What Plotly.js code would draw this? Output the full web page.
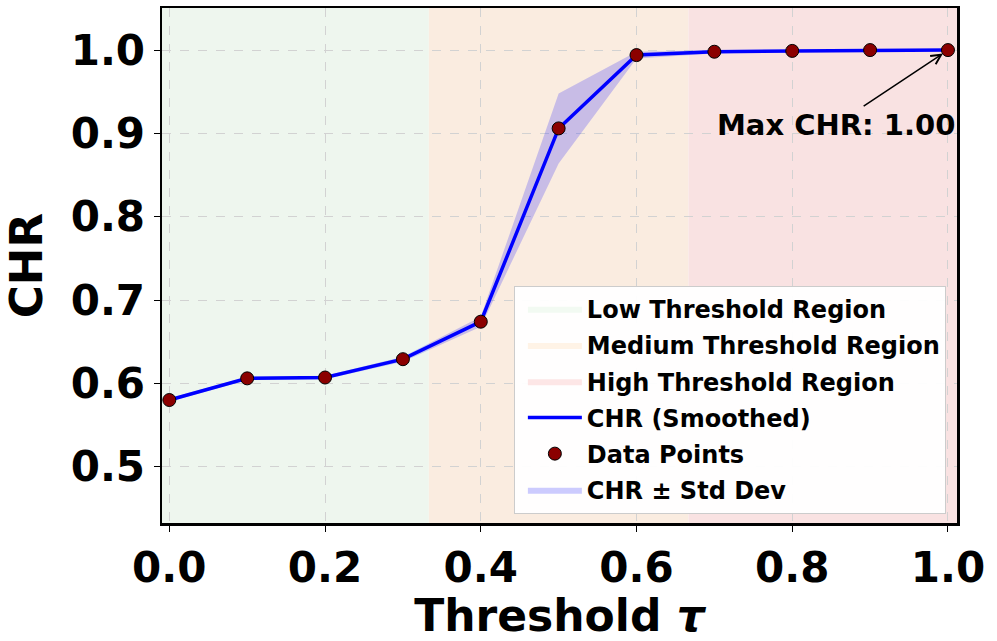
<!DOCTYPE html>
<html>
<head>
<meta charset="utf-8">
<script src="https://cdn.plot.ly/plotly-3.0.1.min.js"></script>
<style>
  html, body { margin: 0; padding: 0; background: white; }
  #chart { width: 997px; height: 641px; }
</style>
</head>
<body>
<div id="chart"></div>
<script>
// threshold values and measured CHR
const thresholds = [0.0, 0.1, 0.2, 0.3, 0.4, 0.5, 0.6, 0.7, 0.8, 0.9, 1.0];
const chrValues = [0.580, 0.606, 0.607, 0.629, 0.674, 0.906, 0.994, 0.998, 0.999, 1.000, 1.000];
const chrStd = [0.002, 0.002, 0.002, 0.003, 0.006, 0.042, 0.004, 0.002, 0.001, 0.001, 0.001];

// region boundaries and labels
const regionEdges = [0, 1 / 3, 2 / 3, 1.0];
const regionNames = ['Low Threshold Region', 'Medium Threshold Region', 'High Threshold Region'];
const regionFill = ['#eef6ee', '#faece0', '#f9e2e2'];
const regionLegendFill = ['#f2faf2', '#fff3e6', '#fde6e6'];

const xRange = [-0.0094, 1.0116];
const yRange = [0.4324, 1.0505];

const FONT = 'DejaVu Sans, Verdana, sans-serif';

const upper = chrValues.map((v, i) => v + chrStd[i]);
const lower = chrValues.map((v, i) => v - chrStd[i]);

// background regions as shapes; the outer ones run to the frame
const shapes = regionNames.map((name, i) => ({
    type: 'rect',
    xref: 'x',
    yref: 'paper',
    x0: i === 0 ? xRange[0] : regionEdges[i],
    x1: i === regionNames.length - 1 ? xRange[1] : regionEdges[i + 1],
    y0: 0,
    y1: 1,
    fillcolor: regionFill[i],
    line: { width: 0 },
    layer: 'below'
}));

// legend-only entries for the regions
const regionTraces = regionNames.map((name, i) => ({
    x: [null],
    y: [null],
    type: 'scatter',
    mode: 'lines',
    fill: 'toself',
    fillcolor: regionLegendFill[i],
    line: { width: 0, color: regionLegendFill[i] },
    name: name,
    legendgroup: 'g' + i,
    legendrank: 1001 + i,
    hoverinfo: 'skip'
}));

const traces = [
    ...regionTraces,
    {
        x: thresholds,
        y: lower,
        type: 'scatter',
        mode: 'lines',
        line: { width: 0, color: 'rgba(0,0,255,0)' },
        showlegend: false,
        hoverinfo: 'skip'
    },
    {
        x: thresholds,
        y: upper,
        type: 'scatter',
        mode: 'lines',
        fill: 'tonexty',
        fillcolor: 'rgba(0,0,255,0.2)',
        line: { width: 0, color: 'rgba(0,0,255,0)' },
        name: 'CHR ± Std Dev',
        legendgroup: 'g5',
        legendrank: 1006
    },
    {
        x: thresholds,
        y: chrValues,
        type: 'scatter',
        mode: 'lines',
        line: { color: '#0000ff', width: 3.5 },
        name: 'CHR (Smoothed)',
        legendgroup: 'g3',
        legendrank: 1004
    },
    {
        x: thresholds,
        y: chrValues,
        type: 'scatter',
        mode: 'markers',
        marker: { size: 13, color: '#8b0000', line: { color: '#000000', width: 1 } },
        name: 'Data Points',
        legendgroup: 'g4',
        legendrank: 1005
    }
];

const bestIdx = chrValues.lastIndexOf(Math.max(...chrValues));

const layout = {
    width: 997,
    height: 641,
    margin: { l: 162, r: 40, t: 8, b: 118 },
    paper_bgcolor: 'white',
    plot_bgcolor: 'white',
    font: { family: FONT, color: '#000', weight: 'bold' },
    xaxis: {
        range: xRange,
        dtick: 0.2,
        tick0: 0,
        tickformat: '.1f',
        tickfont: { size: 42, family: FONT, weight: 'bold' },
        ticks: 'outside',
        ticklen: 6,
        tickwidth: 1,
        tickcolor: '#000',
        showline: true,
        mirror: true,
        linewidth: 2.5,
        linecolor: '#000',
        showgrid: true,
        gridcolor: '#d2d2d2',
        griddash: 'dash',
        gridwidth: 1,
        zeroline: false,
        title: {
            text: 'Threshold <i>τ</i>',
            font: { size: 44, family: FONT, weight: 'bold' },
            standoff: 8
        }
    },
    yaxis: {
        range: yRange,
        dtick: 0.1,
        tick0: 0.5,
        tickformat: '.1f',
        tickfont: { size: 42, family: FONT, weight: 'bold' },
        ticks: 'outside',
        ticklen: 6,
        tickwidth: 1,
        tickcolor: '#000',
        showline: true,
        mirror: true,
        linewidth: 2.5,
        linecolor: '#000',
        showgrid: true,
        gridcolor: '#d2d2d2',
        griddash: 'dash',
        gridwidth: 1,
        zeroline: false,
        title: {
            text: 'CHR',
            font: { size: 45, family: FONT, weight: 'bold' },
            standoff: 28
        }
    },
    shapes: shapes,
    showlegend: true,
    legend: {
        x: 0.986,
        y: 0.018,
        xanchor: 'right',
        yanchor: 'bottom',
        bgcolor: 'rgba(255,255,255,0.95)',
        bordercolor: '#cccccc',
        borderwidth: 1,
        font: { size: 24, family: FONT, weight: 'bold' },
        traceorder: 'grouped',
        tracegroupgap: 2,
        itemwidth: 54,
        indentation: 8
    },
    annotations: [{
        x: thresholds[bestIdx],
        y: chrValues[bestIdx],
        xref: 'x',
        yref: 'y',
        ax: 0.856,
        ay: 0.9105,
        axref: 'x',
        ayref: 'y',
        text: 'Max CHR: ' + chrValues[bestIdx].toFixed(2),
        font: { size: 29, family: FONT, weight: 'bold', color: '#000' },
        showarrow: true,
        arrowhead: 5,
        arrowsize: 1.3,
        arrowwidth: 1.5,
        arrowcolor: '#000',
        standoff: 6
    }],
    hovermode: 'closest'
};

Plotly.newPlot('chart', traces, layout, { displayModeBar: false, staticPlot: true });
</script>
</body>
</html>
